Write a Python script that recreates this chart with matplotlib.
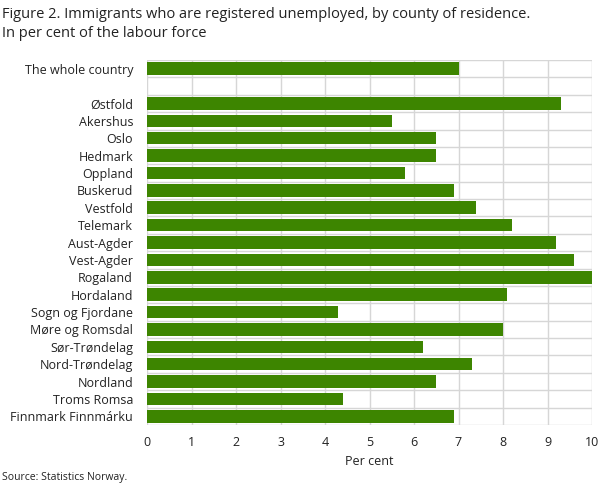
import matplotlib
matplotlib.use("Agg")
import matplotlib.pyplot as plt
import numpy as np

# ---------- DATA ------------
counties = ["The whole country", "", "Østfold", "Akershus", "Oslo", "Hedmark", "Oppland",
            "Buskerud", "Vestfold", "Telemark", "Aust-Agder", "Vest-Agder", "Rogaland",
            "Hordaland", "Sogn og Fjordane", "Møre og Romsdal", "Sør-Trøndelag",
            "Nord-Trøndelag", "Nordland", "Troms Romsa", "Finnmark Finnmárku"]
values = [7.0, np.nan, 9.3, 5.5, 6.5, 6.5, 5.8, 6.9, 7.4, 8.2, 9.2, 9.6, 10.0,
          8.1, 4.3, 8.0, 6.2, 7.3, 6.5, 4.4, 6.9]
# ----------------------------

plt.rcParams['font.family'] = ['Open Sans', 'DejaVu Sans']
fig = plt.figure(figsize=(6.08, 4.88), dpi=100)
ax = fig.add_axes([147 / 608, 1 - 425 / 488, 445 / 608, 365 / 488])

y = np.arange(len(counties))
ax.barh(y, np.nan_to_num(values), height=0.72, color="#3d8500", zorder=3)
ax.set_ylim(len(counties) - 0.5, -0.5)
ax.set_xlim(0, 10)
ax.set_yticks(y)
ax.set_yticklabels(counties, fontsize=9, color="#222222")
ax.set_xticks(range(11))
ax.tick_params(axis='x', labelsize=9, colors="#222222", length=0, pad=8)
ax.tick_params(axis='y', length=0, pad=10)
ax.set_yticks(np.arange(-0.5, len(counties)), minor=True)
ax.tick_params(axis='y', which='minor', length=0)
ax.grid(axis='x', which='major', color="#d6d6d6", lw=1, zorder=0)
ax.grid(axis='y', which='minor', color="#d6d6d6", lw=1, zorder=0)
ax.grid(axis='y', which='major', visible=False)
for s in ax.spines.values():
    s.set_visible(False)
ax.set_xlabel("Per cent", fontsize=9, color="#222222", labelpad=4)

fig.text(0.003, 0.985, "Figure 2. Immigrants who are registered unemployed, by county of residence.\nIn per cent of the labour force",
         fontsize=10.5, va="top", ha="left", color="#222222", linespacing=1.35)
fig.text(0.003, 0.01, "Source: Statistics Norway.", fontsize=7.5, va="bottom", ha="left", color="#222222")

fig.savefig("out.png", dpi=100)
